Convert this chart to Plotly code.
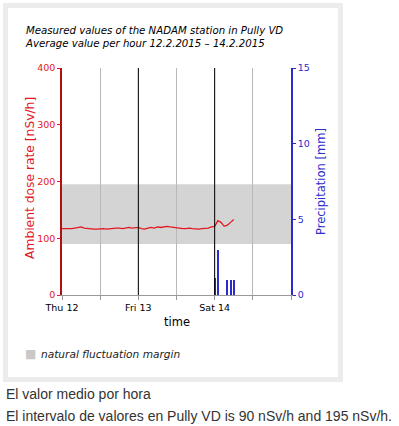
import plotly.graph_objects as go
import pandas as pd

# ---- data ----
start_time = "2015-02-12 00:00"
dose_rate = [117, 117, 116, 117, 118, 119, 120, 118, 117, 117, 116, 116,
             117, 117, 116, 117, 117, 118, 118, 117, 118, 119, 118, 118,
             119, 117, 116, 118, 119, 118, 120, 119, 120, 121, 120, 119,
             118, 118, 117, 117, 118, 117, 116, 116, 117, 117, 118, 120,
             121, 131, 128, 121, 123, 128, 133]
precip_times = ["2015-02-14 00:00", "2015-02-14 01:00", "2015-02-14 04:00",
                "2015-02-14 05:00", "2015-02-14 06:00"]
precip_values = [1.1, 3.0, 1.0, 1.0, 1.0]
margin_low, margin_high = 90, 195
x_tick_times = ["2015-02-12 00:00", "2015-02-12 12:00", "2015-02-13 00:00",
                "2015-02-13 12:00", "2015-02-14 00:00", "2015-02-14 12:00",
                "2015-02-15 00:00"]
x_tick_labels = ["Thu 12", "", "Fri 13", "", "Sat 14", "", ""]
day_lines = ["2015-02-13 00:00", "2015-02-14 00:00"]
y_ticks = [0, 100, 200, 300, 400]
y2_ticks = [0, 5, 10, 15]

times = pd.date_range(start_time, periods=len(dose_rate), freq="h")

W, H = 399, 426
L, R, T, B = 62, 291, 68, 295


def px(x):
    return (x - L) / (R - L)


def py(y):
    return (B - y) / (B - T)


RED = "#e3181f"
BLUE = "#2b2bcc"
FONT = "DejaVu Sans"

fig = go.Figure()
fig.add_trace(go.Bar(x=pd.to_datetime(precip_times), y=precip_values, yaxis="y2",
                     marker=dict(color=BLUE, line=dict(width=0)),
                     width=1000000, showlegend=False))
fig.add_trace(go.Scatter(x=times, y=dose_rate, mode="lines",
                         line=dict(color=RED, width=1.3), showlegend=False))

shapes = [
    dict(type="rect", xref="paper", x0=0, x1=1, yref="y", y0=margin_low, y1=margin_high,
         fillcolor="#d4d4d4", line=dict(width=0), layer="below"),
    dict(type="rect", xref="paper", yref="paper", x0=px(5.5), x1=px(340.5),
         y0=py(379.5), y1=py(5.5), line=dict(color="#ececec", width=5),
         fillcolor="rgba(0,0,0,0)", layer="below"),
]
for d in day_lines:
    shapes.append(dict(type="line", xref="x", yref="paper", x0=d, x1=d, y0=0, y1=1,
                       line=dict(color="black", width=1), layer="above"))

annotations = [
    dict(text="<i>Measured values of the NADAM station in Pully VD<br>"
              "Average value per hour 12.2.2015 \u2013 14.2.2015</i>",
         xref="paper", yref="paper", x=px(23), y=py(23), xanchor="left", yanchor="top",
         showarrow=False, align="left", font=dict(family=FONT, size=10.2, color="black")),
    dict(text="Ambient dose rate [nSv/h]", textangle=-90, xref="paper", yref="paper",
         x=px(30), y=py(178), xanchor="center", yanchor="middle", showarrow=False,
         font=dict(family=FONT, size=12.3, color=RED)),
    dict(text="Precipitation [mm]", textangle=-90, xref="paper", yref="paper",
         x=px(321), y=py(182), xanchor="center", yanchor="middle", showarrow=False,
         font=dict(family=FONT, size=11.5, color=BLUE)),
    dict(text="time", xref="paper", yref="paper", x=px(177), y=py(322),
         xanchor="center", yanchor="middle",
         showarrow=False, font=dict(family=FONT, size=11.5, color="black")),
    dict(text="\u25a0", xref="paper", yref="paper", x=px(31), y=py(354),
         xanchor="center", yanchor="middle",
         showarrow=False, font=dict(family=FONT, size=12, color="#c8c8c8")),
    dict(text="<i>natural fluctuation margin</i>", xref="paper", yref="paper",
         x=px(39), y=py(354), xanchor="left", yanchor="middle", showarrow=False,
         font=dict(family=FONT, size=10.6, color="#222")),
    dict(text="El valor medio por hora", xref="paper", yref="paper",
         x=px(4), y=py(394), xanchor="left", yanchor="middle", showarrow=False,
         font=dict(family="Liberation Sans", size=14, color="#333")),
    dict(text="El intervalo de valores en Pully VD is 90 nSv/h and 195 nSv/h.",
         xref="paper", yref="paper", x=px(4), y=py(416), xanchor="left",
         yanchor="middle", showarrow=False,
         font=dict(family="Liberation Sans", size=14, color="#333")),
]

fig.update_layout(
    width=W, height=H,
    margin=dict(l=L, r=W - R, t=T, b=H - B, pad=0),
    paper_bgcolor="white", plot_bgcolor="white",
    bargap=0, showlegend=False,
    shapes=shapes, annotations=annotations,
    xaxis=dict(type="date", range=["2015-02-12 00:00", "2015-02-15 00:00"],
               tickvals=pd.to_datetime(x_tick_times), ticktext=x_tick_labels,
               showgrid=True, gridcolor="#b8b8b8", gridwidth=1,
               showline=True, linecolor="#999", linewidth=1,
               ticks="outside", ticklen=4, tickcolor="#999",
               tickfont=dict(family=FONT, size=9.5, color="black"), zeroline=False),
    yaxis=dict(range=[0, 400], tickvals=y_ticks, showgrid=False, zeroline=False,
               showline=True, linecolor="#b01010", linewidth=1.5,
               ticks="outside", ticklen=3, tickcolor=RED,
               tickfont=dict(family=FONT, size=9.5, color=RED)),
    yaxis2=dict(range=[0, 15], tickvals=y2_ticks, overlaying="y", side="right",
                showgrid=False, zeroline=False,
                showline=True, linecolor=BLUE, linewidth=1.5,
                ticks="outside", ticklen=3, tickcolor=BLUE,
                tickfont=dict(family=FONT, size=9.5, color=BLUE)),
)

fig.write_html("out.html", config={"displayModeBar": False},
               post_script="document.body.style.margin='0';document.body.style.overflow='hidden';")
